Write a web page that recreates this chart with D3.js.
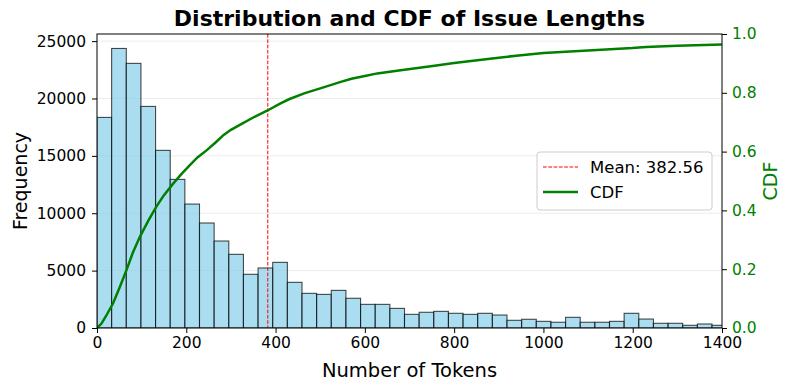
<!DOCTYPE html>
<html><head><meta charset="utf-8">
<script src="https://cdn.jsdelivr.net/npm/d3@7"></script>
<style>body{margin:0;background:#fff}svg{display:block}text{font-family:"DejaVu Sans",sans-serif}</style>
</head><body><svg id="c" width="789" height="390"></svg>
<script>
// ---- data ----
const binWidth = 32.8;
const binCounts = [18350,24360,23060,19310,15480,12950,10800,9150,7580,6420,
  4680,5230,5720,3980,3020,2930,3280,2590,2060,2060,
  1710,1190,1370,1450,1280,1190,1280,1130,670,760,
  580,500,930,500,500,580,1280,780,410,410,235,350,235];
const cdfX = [0,10,20,36,50,66,80,96,115,133,150,171,190,208,225,246,265,283,300,321,350,381,410,430,464,500,546,570,600,628,676,710,760,800,885,950,1000,1100,1199,1230,1300,1400];
const cdfY = [0,0.015,0.04,0.084,0.135,0.197,0.255,0.31,0.365,0.413,0.452,0.492,0.525,0.554,0.58,0.605,0.63,0.656,0.674,0.692,0.716,0.739,0.763,0.778,0.798,0.815,0.837,0.848,0.857,0.866,0.876,0.883,0.893,0.901,0.917,0.928,0.935,0.944,0.952,0.956,0.960,0.964];
const meanValue = 382.56;
const xTicks = [0,200,400,600,800,1000,1200,1400];
const yTicks = [0,5000,10000,15000,20000,25000];
const cdfTicks = [0,0.2,0.4,0.6,0.8,1.0];

// ---- layout ----
const L=97, R=722, T=34, B=328;
const svg=d3.select("#c");
const x=d3.scaleLinear().domain([0,1400]).range([L,R]);
const y=d3.scaleLinear().domain([0,25620]).range([B,T]);
const y2=d3.scaleLinear().domain([0,1]).range([B,T]);

svg.append("defs").append("clipPath").attr("id","clip").append("rect")
  .attr("x",L).attr("y",T).attr("width",R-L).attr("height",B-T);

// grid
svg.append("g").selectAll("line").data(yTicks).join("line")
  .attr("x1",L).attr("x2",R).attr("y1",d=>y(d)).attr("y2",d=>y(d))
  .attr("stroke","#b0b0b0").attr("stroke-opacity",0.3).attr("stroke-width",0.8);

// bars
const bins = binCounts.map((c,i)=>({x0:i*binWidth,x1:(i+1)*binWidth,c}));
svg.append("g").attr("clip-path","url(#clip)").selectAll("rect").data(bins).join("rect")
  .attr("x",d=>x(d.x0)).attr("width",d=>x(d.x1)-x(d.x0))
  .attr("y",d=>y(d.c)).attr("height",d=>y(0)-y(d.c))
  .attr("fill","#87ceeb").attr("fill-opacity",0.7)
  .attr("stroke","#000").attr("stroke-opacity",0.7).attr("stroke-width",1.1);

// mean line
svg.append("line").attr("x1",x(meanValue)).attr("x2",x(meanValue)).attr("y1",T).attr("y2",B)
  .attr("stroke","red").attr("stroke-width",1).attr("stroke-dasharray","3.7,1.6");

// cdf
const pts=cdfX.map((v,i)=>[v,cdfY[i]]);
svg.append("path").attr("clip-path","url(#clip)").datum(pts)
  .attr("d",d3.line().x(d=>x(d[0])).y(d=>y2(d[1])))
  .attr("fill","none").attr("stroke","green").attr("stroke-width",2.5);

// axes
const fs="15.5px";
const gx=svg.append("g").attr("transform",`translate(0,${B})`).call(d3.axisBottom(x).tickValues(xTicks).tickSize(5).tickPadding(4).tickFormat(d3.format("d")));
const gy=svg.append("g").attr("transform",`translate(${L},0)`).call(d3.axisLeft(y).tickValues(yTicks).tickSize(5).tickPadding(6).tickFormat(d3.format("d")));
const gy2=svg.append("g").attr("transform",`translate(${R},0)`).call(d3.axisRight(y2).tickValues(cdfTicks).tickSize(5).tickPadding(5).tickFormat(d3.format(".1f")));
[gx,gy,gy2].forEach(g=>{g.select(".domain").remove();g.selectAll("text").style("font-size",fs).attr("font-family","DejaVu Sans");g.selectAll("line").attr("stroke","#000");});
gy2.selectAll("text").attr("fill","green");
// frame
svg.append("rect").attr("x",L).attr("y",T).attr("width",R-L).attr("height",B-T)
  .attr("fill","none").attr("stroke","#000").attr("stroke-width",1);

// labels
svg.append("text").attr("x",(L+R)/2).attr("y",26).attr("text-anchor","middle")
  .style("font-size","22px").style("font-weight","bold").text("Distribution and CDF of Issue Lengths");
svg.append("text").attr("x",(L+R)/2).attr("y",377).attr("text-anchor","middle")
  .style("font-size","19.5px").text("Number of Tokens");
svg.append("text").attr("transform",`translate(27,${(T+B)/2}) rotate(-90)`).attr("text-anchor","middle")
  .style("font-size","19px").text("Frequency");
svg.append("text").attr("transform",`translate(777,${(T+B)/2}) rotate(-90)`).attr("text-anchor","middle")
  .style("font-size","19px").attr("fill","green").text("CDF");

// legend
const lg=svg.append("g");
lg.append("rect").attr("x",537).attr("y",152).attr("width",175).attr("height",58).attr("rx",3)
  .attr("fill","#fff").attr("fill-opacity",0.8).attr("stroke","#ccc");
lg.append("line").attr("x1",543).attr("x2",578).attr("y1",167).attr("y2",167)
  .attr("stroke","red").attr("stroke-width",1).attr("stroke-dasharray","3.7,1.6");
lg.append("line").attr("x1",543).attr("x2",578).attr("y1",192).attr("y2",192)
  .attr("stroke","green").attr("stroke-width",2.5);
lg.append("text").attr("x",590).attr("y",173).style("font-size","16.5px").text("Mean: "+meanValue.toFixed(2));
lg.append("text").attr("x",590).attr("y",198).style("font-size","16.5px").text("CDF");
</script></body></html>
